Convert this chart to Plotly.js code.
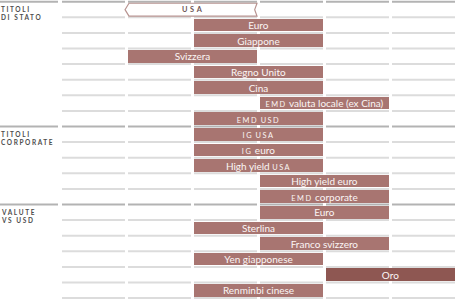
<!DOCTYPE html>
<html><head><meta charset="utf-8">
<script src="https://cdn.plot.ly/plotly-3.0.1.min.js"></script>
<style>html,body{margin:0;padding:0;background:#fff;}</style>
</head><body><div id="chart" style="width:457px;height:300px;"></div>
<script>
const rows = ["USA","Euro","Giappone","Svizzera","Regno Unito","Cina","EMD valuta locale (ex Cina)","EMD USD","IG USA","IG euro","High yield USA","High yield euro","EMD corporate","Euro","Sterlina","Franco svizzero","Yen giapponese","Oro","Renminbi cinese"];
const startCol = [2,3,3,2,3,3,4,3,3,3,3,4,4,4,3,4,3,5,3];
const endCol   = [3,4,4,3,4,4,5,4,4,4,4,5,5,5,4,5,4,6,4];
const sectionNames = ["TITOLI<br>DI STATO","TITOLI<br>CORPORATE","VALUTE<br>VS USD"];
const sectionStart = [0,8,13];
const outlinedRows = ["USA"];
const emphasisRows = ["Oro"];
const nCols = 6;

const GAP = 3/66;
const BAR = '#a87571', BAR_DARK = '#8e5752', GRID = '#dcdcdc', SEC = '#b3b3b3';
function fmt(s, ls){
  return s.split(' ').map(w => /^[A-Z]{2,}$/.test(w) ? '<span style="font-size:7.4px;letter-spacing:'+(ls||1.5)+'px">'+w+'</span>' : w).join(' ');
}
const idx = rows.map((_,i)=>i).filter(i => outlinedRows.indexOf(rows[i])<0);
const trace = {
  type:'bar', orientation:'h',
  y: idx.map(i=>i),
  base: idx.map(i=>startCol[i]-1),
  x: idx.map(i=>endCol[i]-startCol[i]+1-GAP),
  width: 0.8,
  text: idx.map(i=>fmt(rows[i])),
  textposition:'inside', insidetextanchor:'middle', textangle:0, constraintext:'none',
  textfont:{family:'Lato', size:10, color:'#fbf6f5'},
  marker:{color: idx.map(i=> emphasisRows.indexOf(rows[i])>=0 ? BAR_DARK : BAR), line:{width:0}},
  hoverinfo:'none', cliponaxis:false
};
const xr = [-62/66, 395/66];
const shapes = [], annotations = [];
for (let i=0;i<=rows.length;i++){
  const isSec = sectionStart.indexOf(i)>=0;
  for (let k=1;k<=nCols;k++){
    shapes.push({type:'line', xref:'x', yref:'y', x0:k-1, x1:k-GAP, y0:i-0.5, y1:i-0.5, layer:'below',
      line:{color:isSec?SEC:GRID, width:2}});
  }
  if (isSec){
    shapes.push({type:'line', xref:'x', yref:'y', x0:xr[0], x1:-4/66, y0:i-0.5, y1:i-0.5, layer:'below',
      line:{color:SEC, width:2}});
  }
}
sectionNames.forEach((n,j)=>{
  annotations.push({xref:'paper', yref:'y', x:0, y:sectionStart[j]-0.5, xanchor:'left', yanchor:'top', yshift:-2, xshift:-1,
    align:'left', showarrow:false,
    text:'<b><span style="letter-spacing:1.6px">'+n+'</span></b>',
    font:{family:'Lato', size:6.5, color:'#4d4d4d'}});
});
rows.forEach((r,i)=>{
  if (outlinedRows.indexOf(r)<0) return;
  const x0 = startCol[i]-1-0.045, x1 = endCol[i]-GAP, t = i-0.4, b = i+0.42, m = i+0.01, d = 0.06;
  shapes.push({type:'path', xref:'x', yref:'y', layer:'above',
    path:`M${x0+d},${t} L${x1},${t} L${x1-0.035},${m} L${x1},${b} L${x0+d},${b} L${x0},${m} Z`,
    fillcolor:'#ffffff', line:{color:'#b89491', width:1.2}});
  annotations.push({xref:'x', yref:'y', x:(startCol[i]-1+endCol[i]-GAP)/2, y:i, showarrow:false,
    text:'<b>'+fmt(r, 2.6)+'</b>', font:{family:'Lato', size:10, color:'#6e5654'}});
});
const layout = {
  width:457, height:300, margin:{l:0,r:0,t:0,b:0},
  paper_bgcolor:'#fff', plot_bgcolor:'#fff', showlegend:false,
  xaxis:{range:xr, visible:false, fixedrange:true},
  yaxis:{range:[(300-1.7)/15.6-0.5, -1.7/15.6-0.5], visible:false, fixedrange:true},
  bargap:0, shapes, annotations
};
Plotly.newPlot('chart',[trace],layout,{staticPlot:true});
</script></body></html>
